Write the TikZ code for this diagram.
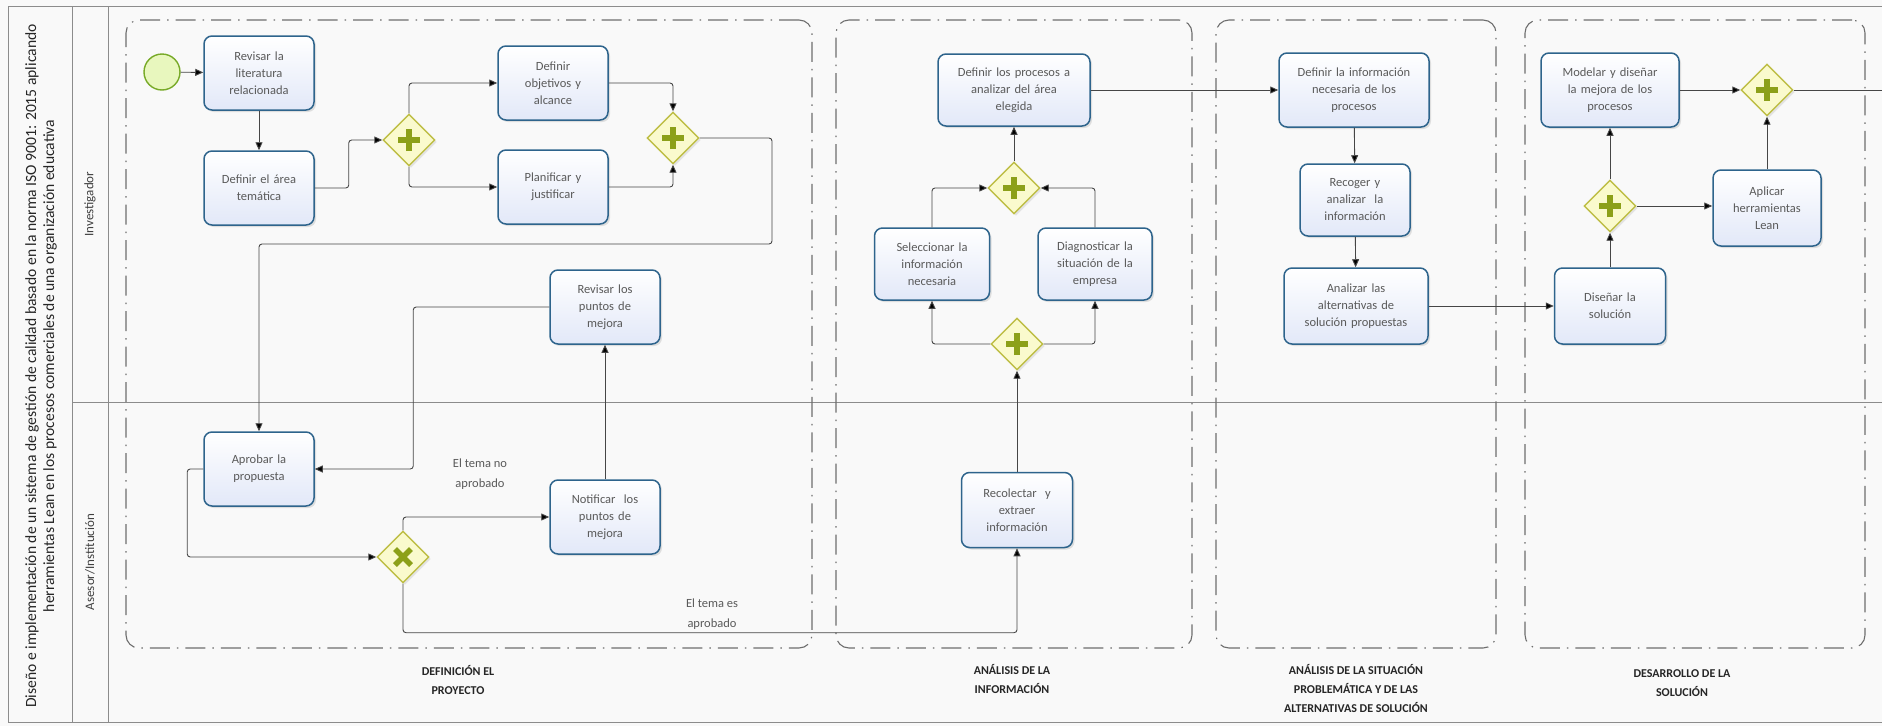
\documentclass[tikz,border=0pt]{standalone}
\usepackage{fontspec}
\setmainfont{Carlito}
\usetikzlibrary{shapes.geometric,arrows.meta,shadows}

\definecolor{bgc}{RGB}{249,249,249}
\definecolor{poolc}{RGB}{140,140,140}
\definecolor{phasec}{RGB}{110,110,110}
\definecolor{taskline}{RGB}{46,100,140}
\definecolor{taskfill}{RGB}{226,232,248}
\definecolor{txtc}{RGB}{90,90,90}
\definecolor{flowc}{RGB}{70,70,70}
\definecolor{gwline}{RGB}{190,190,70}
\definecolor{gwfill}{RGB}{250,250,205}
\definecolor{gwsym}{RGB}{140,160,25}
\definecolor{evline}{RGB}{120,170,40}
\definecolor{evfill}{RGB}{232,247,190}

\begin{document}
\begin{tikzpicture}[x=1pt,y=-1pt,
  task/.style={draw=taskline, line width=1.5pt, rounded corners=8pt,
    top color=white, bottom color=taskfill, text=txtc,
    font=\fontsize{12.5}{17}\selectfont, align=center,
    minimum width=110pt, minimum height=74pt, text width=100pt, inner sep=2pt,
    drop shadow={shadow xshift=2pt, shadow yshift=-2pt, opacity=.22}},
  gw/.style={diamond, draw=gwline, line width=1.4pt, fill=gwfill,
    minimum width=52pt, minimum height=52pt, inner sep=0pt,
    drop shadow={shadow xshift=2pt, shadow yshift=-2pt, opacity=.18}},
  gwmark/.style={draw=gwsym, line width=6.5pt},
  startev/.style={circle, draw=evline, line width=1.4pt, fill=evfill,
    minimum size=36pt, inner sep=0pt},
  flow/.style={draw=flowc, line width=0.9pt, rounded corners=3pt,
    -{Triangle[length=8pt,width=7pt,fill=black]}},
  plainflow/.style={draw=flowc, line width=0.9pt},
  phase/.style={draw=phasec, line width=1.1pt, rounded corners=13pt,
    dash pattern=on 20pt off 7pt on 1.5pt off 7pt, inner sep=0pt},
  phlbl/.style={font=\bfseries\fontsize{12}{19}\selectfont, text=black!85,
    align=center},
  lbl/.style={font=\fontsize{12.5}{20}\selectfont, text=txtc, align=center},
  lane/.style={font=\fontsize{13}{16}\selectfont, text=black!75, rotate=90},
  pool/.style={draw=poolc, line width=1pt}
]
\useasboundingbox[fill=bgc] (0,0) rectangle (1882,726);

% pool and lanes
\draw[pool] (1882,6) -- (8,6) -- (8,722) -- (1882,722);
\draw[pool] (72,6) -- (72,722);
\draw[pool] (108,6) -- (108,722);
\draw[pool] (72,402) -- (1882,402);
\node[font=\fontsize{15.6}{18}\selectfont, text=black!85, rotate=90, align=center]
  (title) at (41,366) {Diseño e implementación de un sistema de gestión de calidad basado en la norma ISO 9001: 2015 aplicando\\herramientas Lean en los procesos comerciales de una organización educativa};
\node[lane] (lane1) at (90,204) {Investigador};
\node[lane] (lane2) at (90,562) {Asesor/Institución};

% phases
\node[phase, minimum width=686pt, minimum height=628pt] (p1) at (469,334) {};
\node[phase, minimum width=356pt, minimum height=628pt] (p2) at (1014,334) {};
\node[phase, minimum width=280pt, minimum height=628pt] (p3) at (1356,334) {};
\node[phase, minimum width=340pt, minimum height=628pt] (p4) at (1695,334) {};
\node[phlbl] (l1) at (458,680) {DEFINICIÓN EL\\PROYECTO};
\node[phlbl] (l2) at (1012,679) {ANÁLISIS DE LA\\INFORMACIÓN};
\node[phlbl] (l3) at (1356,688) {ANÁLISIS DE LA SITUACIÓN\\PROBLEMÁTICA Y DE LAS\\ALTERNATIVAS DE SOLUCIÓN};
\node[phlbl] (l4) at (1682,683) {DESARROLLO DE LA\\SOLUCIÓN};

% events and tasks
\node[startev] (start) at (162,72) {};
\node[task] (t1) at (259,73) {Revisar la\\literatura\\relacionada};
\node[task] (t2) at (259,188) {Definir el área\\temática};
\node[task] (t3) at (553,83) {Definir\\objetivos y\\alcance};
\node[task] (t4) at (553,187) {Planificar y\\justificar};
\node[task] (t5) at (605,307) {Revisar los\\puntos de\\mejora};
\node[task] (t6) at (259,469) {Aprobar la\\propuesta};
\node[task] (t7) at (605,517) {Notificar\ \ los\\puntos de\\mejora};
\node[task, minimum width=152pt, minimum height=72pt, text width=144pt] (t8) at (1014,90) {Definir los procesos a\\analizar del área\\elegida};
\node[task, minimum width=115pt, minimum height=72pt, text width=110pt] (t9) at (932,264) {Seleccionar la\\información\\necesaria};
\node[task, minimum width=114pt, minimum height=72pt, text width=110pt] (t10) at (1095,264) {Diagnosticar la\\situación de la\\empresa};
\node[task, minimum width=111pt, minimum height=75pt] (t11) at (1017,510) {Recolectar\ \ y\\extraer\\información};
\node[task, minimum width=150pt, text width=144pt] (t12) at (1354,90) {Definir la información\\necesaria de los\\procesos};
\node[task, minimum height=72pt] (t13) at (1355,200) {Recoger y\\analizar\ \ la\\información};
\node[task, minimum width=144pt, minimum height=76pt, text width=138pt] (t14) at (1356,306) {Analizar las\\alternativas de\\solución propuestas};
\node[task, minimum width=138pt, text width=132pt] (t15) at (1610,90) {Modelar y diseñar\\la mejora de los\\procesos};
\node[task, minimum width=108pt, minimum height=76pt] (t16) at (1767,208) {Aplicar\\herramientas\\Lean};
\node[task, minimum width=111pt, minimum height=76pt] (t17) at (1610,306) {Diseñar la\\solución};

% gateways
\node[gw] (g1) at (409,140) {};
\node[gw] (g2) at (673,138) {};
\node[gw] (g3) at (403,557) {};
\node[gw] (g4) at (1014,188) {};
\node[gw] (g5) at (1017,344) {};
\node[gw] (g6) at (1610,206) {};
\node[gw] (g7) at (1767,90) {};
\foreach \g in {g1,g2,g4,g5,g6,g7}{
  \draw[gwmark] ([xshift=-11pt]\g.center) -- ([xshift=11pt]\g.center);
  \draw[gwmark] ([yshift=-11pt]\g.center) -- ([yshift=11pt]\g.center);
}
\draw[gwmark, line width=5.5pt] ([shift={(-8pt,-8pt)}]g3.center) -- ([shift={(8pt,8pt)}]g3.center);
\draw[gwmark, line width=5.5pt] ([shift={(-8pt,8pt)}]g3.center) -- ([shift={(8pt,-8pt)}]g3.center);

% sequence flows
\coordinate (exit) at (1882,90);
\coordinate (back) at (772,244);
\draw[flow] (start) -- (t1);
\draw[flow] (t1) -- (t2);
\draw[flow] (t2.east) -- ++(34,0) |- (g1.west);
\draw[flow] (g1.north) |- (t3.west);
\draw[flow] (g1.south) |- (t4.west);
\draw[flow] (t3.east) -| (g2.north);
\draw[flow] (t4.east) -| (g2.south);
\draw[flow] (g2.east) -| (back) -| (t6.north);
\draw[flow] (t6.west) -- ++(-16,0) |- (g3.west);
\draw[flow] (g3.north) |- (t7.west);
\draw[flow] (t7.north) -- (t5.south);
\draw[flow] (t5.west) -- ++(-136,0) |- (t6.east);
\draw[flow] (g3.south) -- ++(0,49) -| (t11.south);
\node[lbl] (lno) at (480,474) {El tema no\\aprobado};
\node[lbl] (lsi) at (712,614) {El tema es\\aprobado};
\draw[flow] (t11.north) -- (g5.south);
\draw[flow] (g5.west) -| (t9.south);
\draw[flow] (g5.east) -| (t10.south);
\draw[flow] (t9.north) |- (g4.west);
\draw[flow] (t10.north) |- (g4.east);
\draw[flow] (g4.north) -- (t8.south);
\draw[flow] (t8.east) -- (t8.east -| t12.west);
\draw[flow] (t12) -- (t13);
\draw[flow] (t13) -- (t14);
\draw[flow] (t14.east) -- (t14.east -| t17.west);
\draw[flow] (t17) -- (g6);
\draw[flow] (g6) -- (t15);
\draw[flow] (g6.east) -- (g6.east -| t16.west);
\draw[flow] (t15.east) -- (t15.east -| g7.west);
\draw[flow] (t16.north) -- (g7.south);
\draw[plainflow] (g7.east) -- (exit);
\end{tikzpicture}
\end{document}
